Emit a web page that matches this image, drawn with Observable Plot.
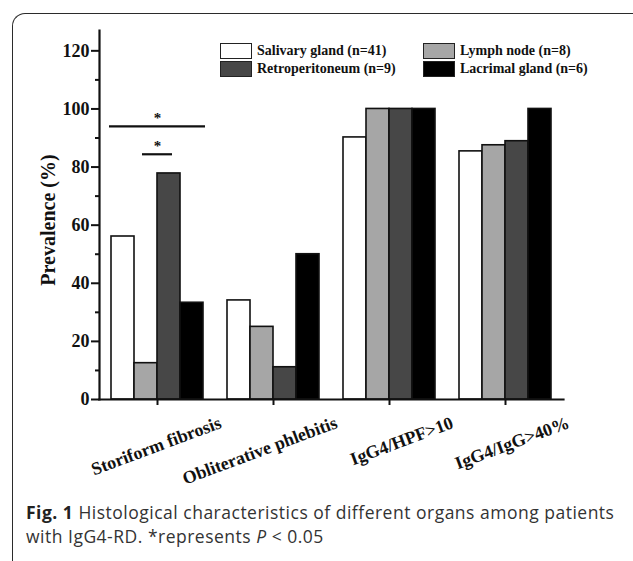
<!DOCTYPE html>
<html>
<head>
<meta charset="utf-8">
<script src="https://cdn.jsdelivr.net/npm/d3@7"></script>
<script src="https://cdn.jsdelivr.net/npm/@observablehq/plot@0.6"></script>
<style>
  body { margin: 0; background: #fff; }
  #wrap { position: relative; width: 633px; height: 561px; overflow: hidden; background: #fff; }
  #box { position: absolute; left: 12px; top: 13px; width: 700px; height: 600px;
         border-top: 1.6px solid #2b2b2b; border-left: 1.6px solid #2b2b2b; border-top-left-radius: 13px; }
  #chart { position: absolute; left: 0; top: 0; }
  #legend { position: absolute; left: 220px; top: 43px; display: grid; grid-template-columns: 203px auto;
            row-gap: 2px; font-family: "Liberation Serif", serif; font-weight: bold; font-size: 14px; color: #111; }
  .item { display: flex; align-items: center; height: 16px; }
  .sw { width: 32px; height: 16px; box-sizing: border-box; border: 1.8px solid #222; margin-right: 5px; }
  #caption { position: absolute; left: 26px; top: 500px; font-family: "Open Sans", sans-serif; font-size: 17.5px;
             letter-spacing: 0.5px; color: #333; white-space: nowrap; }
  #caption div { height: 24px; line-height: 24px; }
  #caption b { color: #222; }
</style>
</head>
<body>
<div id="wrap">
  <div id="box"></div>
  <div id="chart"></div>
  <div id="legend"></div>
  <div id="caption">
    <div><b>Fig. 1</b> Histological characteristics of different organs among patients</div>
    <div>with IgG4-RD. *represents <i>P</i> &lt; 0.05</div>
  </div>
</div>
<script>
const categories = ["Storiform fibrosis", "Obliterative phlebitis", "IgG4/HPF>10", "IgG4/IgG>40%"];
const series = ["Salivary gland (n=41)", "Lymph node (n=8)", "Retroperitoneum (n=9)", "Lacrimal gland (n=6)"];
const salivary = [56.1, 34.1, 90.2, 85.4];
const lymph = [12.5, 25.0, 100, 87.5];
const retro = [77.8, 11.1, 100, 88.9];
const lacrimal = [33.3, 50.0, 100, 100];
const fills = ["#ffffff", "#a6a6a6", "#474747", "#000000"];
const yTicks = [0, 20, 40, 60, 80, 100, 120];
const yMinorTicks = [10, 30, 50, 70, 90, 110];
const bracketLong = [{category: categories[0], from: series[0], to: series[3], y: 94}];
const bracketShort = [{category: categories[0], from: series[1], to: series[2], y: 84.4}];

const valuesBySeries = [salivary, lymph, retro, lacrimal];
const data = [];
categories.forEach((c, i) => series.forEach((s, j) => data.push({category: c, series: s, value: valuesBySeries[j][i]})));

const W = 633, H = 500;
const plot = Plot.plot({
  width: W, height: H,
  marginLeft: 99, marginRight: 22, marginTop: 30, marginBottom: 101,
  style: {background: "transparent", fontFamily: "Liberation Serif, serif", color: "#111"},
  fx: {domain: categories, range: [99, 563], padding: 0},
  x: {domain: series, paddingInner: 0, paddingOuter: 0.5, axis: null},
  y: {domain: [0, 127], label: null},
  color: {domain: series, range: fills},
  marks: [
    Plot.barY(data, {fx: "category", x: "series", y: "value", fill: "series", stroke: "#111", strokeWidth: 1.6}),
    Plot.ruleY(bracketLong, {fx: "category", x1: "from", x2: "to", y: "y", strokeWidth: 2.2, stroke: "#111", insetLeft: -2, insetRight: -2}),
    Plot.ruleY(bracketShort, {fx: "category", x1: "from", x2: "to", y: "y", strokeWidth: 2.2, stroke: "#111", insetLeft: 8, insetRight: 8}),
    Plot.text(bracketLong, {fx: "category", y: "y", text: () => "*", lineAnchor: "bottom", dy: -3, fontSize: 15, fontWeight: "bold"}),
    Plot.text(bracketShort, {fx: "category", y: "y", text: () => "*", lineAnchor: "bottom", dy: -3, fontSize: 15, fontWeight: "bold"}),
    Plot.frame({facet: "super", anchor: "left", strokeWidth: 2.2, stroke: "#111"}),
    Plot.frame({facet: "super", anchor: "bottom", strokeWidth: 2.2, stroke: "#111"}),
    Plot.axisY(yTicks, {tickSize: 8, tickPadding: 2, fontSize: 18, fontWeight: "bold", strokeWidth: 2, stroke: "#111", label: null}),
    Plot.axisY(yMinorTicks, {tickSize: 4, tickFormat: () => "", strokeWidth: 2, stroke: "#111", label: null}),
    Plot.axisFx({anchor: "bottom", tickSize: 6, tickFormat: () => "", strokeWidth: 2, stroke: "#111", label: null}),
    Plot.text(categories, {fx: d => d, text: d => d, frameAnchor: "bottom", textAnchor: "end", lineAnchor: "bottom",
                           rotate: -20.5, dx: 65, dy: 28, fontSize: 18, fontWeight: "bold"}),
    Plot.text(["Prevalence (%)"], {facet: "super", text: d => d, frameAnchor: "left", textAnchor: "middle", rotate: -90,
                                   lineAnchor: "bottom", dx: -45, dy: 5, fontSize: 20, fontWeight: "bold"})
  ]
});
document.getElementById("chart").appendChild(plot);

const legend = document.getElementById("legend");
series.forEach((s, i) => {
  const item = document.createElement("div");
  item.className = "item";
  const sw = document.createElement("div");
  sw.className = "sw";
  sw.style.background = fills[i];
  const t = document.createElement("span");
  t.textContent = s;
  item.appendChild(sw);
  item.appendChild(t);
  legend.appendChild(item);
});
</script>
</body>
</html>
